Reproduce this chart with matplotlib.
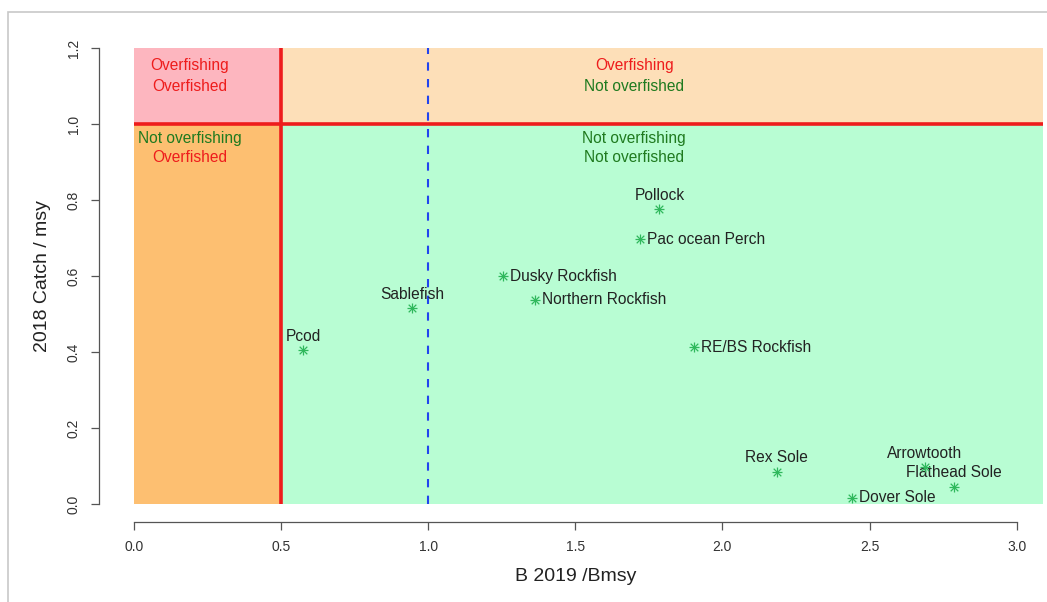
import matplotlib
matplotlib.use("Agg")
import matplotlib.pyplot as plt
from matplotlib.patches import Rectangle

plt.rcParams['font.family'] = ['Liberation Sans', 'DejaVu Sans']

# stock status: B2019/Bmsy and 2018 catch/msy
species = ["Pcod", "Sablefish", "Dusky Rockfish", "Northern Rockfish", "Pollock",
           "Pac ocean Perch", "RE/BS Rockfish", "Rex Sole", "Arrowtooth",
           "Flathead Sole", "Dover Sole"]
b_bmsy = [0.575, 0.946, 1.255, 1.364, 1.786, 1.721, 1.905, 2.184, 2.688, 2.787, 2.439]
catch_msy = [0.405, 0.516, 0.600, 0.537, 0.776, 0.697, 0.413, 0.085, 0.098, 0.046, 0.017]
label_pos = ["above", "above", "right", "right", "above", "right", "right",
             "above", "above", "above", "right"]

x_ticks = [0.0, 0.5, 1.0, 1.5, 2.0, 2.5, 3.0]
y_ticks = [0.0, 0.2, 0.4, 0.6, 0.8, 1.0, 1.2]

RED = "#ee1c1c"
GREEN = "#1f7a1f"

fig = plt.figure(figsize=(10.47, 6.02), dpi=100)
# grey frame around the figure
fig.patches.append(Rectangle((8 / 1047, -0.05), 1.1, (602 - 12) / 602 + 0.05,
                             transform=fig.transFigure, fill=False,
                             edgecolor="#c8c8c8", linewidth=1.2))

ax = fig.add_axes([0.0943, 0.1325, 0.9104, 0.818])
ax.set_xlim(-0.12, 3.12)
ax.set_ylim(-0.048, 1.248)
ax.patch.set_alpha(0)

xr = 3.09
ax.add_patch(Rectangle((0, 1.0), 0.5, 0.2, facecolor="#fdb6bf", edgecolor="none"))
ax.add_patch(Rectangle((0.5, 1.0), xr - 0.5, 0.2, facecolor="#fddfb8", edgecolor="none"))
ax.add_patch(Rectangle((0, 0), 0.5, 1.0, facecolor="#fdbf71", edgecolor="none"))
ax.add_patch(Rectangle((0.5, 0), xr - 0.5, 1.0, facecolor="#b8fdd3", edgecolor="none"))

ax.plot([0, xr], [1.0, 1.0], color=RED, lw=2.6, solid_capstyle="butt")
ax.plot([0.5, 0.5], [0, 1.2], color=RED, lw=2.6, solid_capstyle="butt")
ax.plot([1.0, 1.0], [0, 1.2], color="#2244ee", lw=1.5, ls=(0, (4, 4)))

# quadrant labels
qfs = 11.2
ax.text(0.19, 1.153, "Overfishing", color=RED, ha="center", va="center", fontsize=qfs)
ax.text(0.19, 1.100, "Overfished", color=RED, ha="center", va="center", fontsize=qfs)
ax.text(1.70, 1.153, "Overfishing", color=RED, ha="center", va="center", fontsize=qfs)
ax.text(1.70, 1.100, "Not overfished", color=GREEN, ha="center", va="center", fontsize=qfs)
ax.text(0.19, 0.963, "Not overfishing", color=GREEN, ha="center", va="center", fontsize=qfs)
ax.text(0.19, 0.911, "Overfished", color=RED, ha="center", va="center", fontsize=qfs)
ax.text(1.70, 0.963, "Not overfishing", color=GREEN, ha="center", va="center", fontsize=qfs)
ax.text(1.70, 0.911, "Not overfished", color=GREEN, ha="center", va="center", fontsize=qfs)

# asterisk points (R pch = 8)
pc = "#2fb85c"
ax.scatter(b_bmsy, catch_msy, marker="+", s=48, color=pc, linewidths=0.9, zorder=5)
ax.scatter(b_bmsy, catch_msy, marker="x", s=30, color=pc, linewidths=0.9, zorder=5)

lfs = 11.2
for name, x, y, pos in zip(species, b_bmsy, catch_msy, label_pos):
    if pos == "above":
        ax.annotate(name, (x, y), xytext=(0, 4.5), textcoords="offset points",
                    ha="center", va="bottom", fontsize=lfs, color="#222222")
    else:
        ax.annotate(name, (x, y), xytext=(5, 0), textcoords="offset points",
                    ha="left", va="center", fontsize=lfs, color="#222222")

for side in ["top", "right"]:
    ax.spines[side].set_visible(False)
ax.spines["bottom"].set_bounds(0, 3)
ax.spines["left"].set_bounds(0, 1.2)
for side in ["bottom", "left"]:
    ax.spines[side].set_color("#555555")
    ax.spines[side].set_linewidth(0.9)

ax.set_xticks(x_ticks)
ax.set_xticklabels([f"{v:.1f}" for v in x_ticks])
ax.set_yticks(y_ticks)
ax.set_yticklabels([f"{v:.1f}" for v in y_ticks], rotation=90, va="center")
ax.tick_params(axis="both", length=6, width=0.9, color="#555555",
               labelsize=10, labelcolor="#333333", pad=7)

ax.set_xlabel("B 2019 /Bmsy", fontsize=14, color="#222222", labelpad=10)
ax.set_ylabel("2018 Catch / msy", fontsize=14, color="#222222", labelpad=11)

fig.savefig("out.png", dpi=100)
